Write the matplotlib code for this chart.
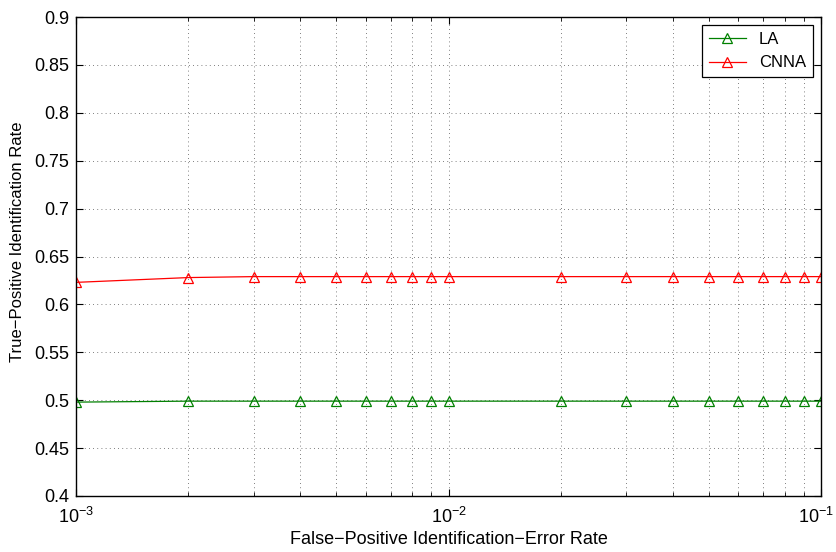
import matplotlib
matplotlib.use("Agg")
import matplotlib.pyplot as plt
import matplotlib.transforms as mtransforms
import numpy as np

plt.rcParams['font.family'] = ['Liberation Sans', 'DejaVu Sans']
plt.rcParams['mathtext.fontset'] = 'custom'
plt.rcParams['mathtext.rm'] = 'Liberation Sans'
plt.rcParams['mathtext.it'] = 'Liberation Sans:italic'
plt.rcParams['mathtext.bf'] = 'Liberation Sans:bold'

# false-positive rates (log axis)
fpr = [0.001, 0.002, 0.003, 0.004, 0.005, 0.006, 0.007, 0.008, 0.009,
       0.01, 0.02, 0.03, 0.04, 0.05, 0.06, 0.07, 0.08, 0.09, 0.1]
la = [0.498, 0.499, 0.499, 0.499, 0.499, 0.499, 0.499, 0.499, 0.499,
      0.499, 0.499, 0.499, 0.499, 0.499, 0.499, 0.499, 0.499, 0.499, 0.499]
cnna = [0.623, 0.628, 0.629, 0.629, 0.629, 0.629, 0.629, 0.629, 0.629,
        0.629, 0.629, 0.629, 0.629, 0.629, 0.629, 0.629, 0.629, 0.629, 0.629]
xticks = [1e-3, 1e-2, 1e-1]
xticklabels = ['$10^{-3}$', '$10^{-2}$', '$10^{-1}$']
yticks = [0.4, 0.45, 0.5, 0.55, 0.6, 0.65, 0.7, 0.75, 0.8, 0.85, 0.9]

fig = plt.figure(figsize=(8.36, 5.52), dpi=100)
ax = fig.add_axes([76 / 836, 56 / 552, 745 / 836, 479 / 552])

ax.plot(fpr, la, color='green', lw=0.9, marker='^', ms=7,
        mfc='none', mec='green', mew=0.9, label='LA')
ax.plot(fpr, cnna, color='red', lw=0.9, marker='^', ms=7,
        mfc='none', mec='red', mew=0.9, label='CNNA')

ax.set_xscale('log')
ax.set_xlim(1e-3, 1e-1)
ax.set_ylim(0.4, 0.9)
ax.set_xticks(xticks)
ax.set_xticklabels(xticklabels)
ax.set_yticks(yticks)
ax.set_yticklabels([f"{v:g}" for v in yticks])

ax.grid(True, which='both', axis='x', linestyle=(0, (1, 4)), color='#555555', lw=0.6)
ax.grid(True, which='major', axis='y', linestyle=(0, (1, 4)), color='#555555', lw=0.6)

ax.tick_params(which='both', direction='in', top=True, right=True, labelsize=13)
ax.tick_params(which='major', length=5)
ax.tick_params(which='minor', length=3)
ax.tick_params(axis='x', which='major', pad=8)
ax.tick_params(axis='y', which='major', pad=5)
for s in ax.spines.values():
    s.set_linewidth(1.0)

# nudge the last x label left so it stays inside the figure
last = ax.get_xticklabels()[-1]
last.set_transform(last.get_transform()
                   + mtransforms.ScaledTranslation(-5 / 100, 0, fig.dpi_scale_trans))

ax.set_xlabel('False\u2212Positive Identification\u2212Error Rate', fontsize=13, labelpad=3)
ax.set_ylabel('True\u2212Positive Identification Rate', fontsize=12)
ax.yaxis.set_label_coords(-0.068, 0.53)

leg = ax.legend(loc='upper right', fontsize=12, fancybox=False, framealpha=1,
                edgecolor='black', handlelength=2.2, borderaxespad=0.5)
leg.get_frame().set_linewidth(0.9)

fig.savefig('out.png', dpi=100)
